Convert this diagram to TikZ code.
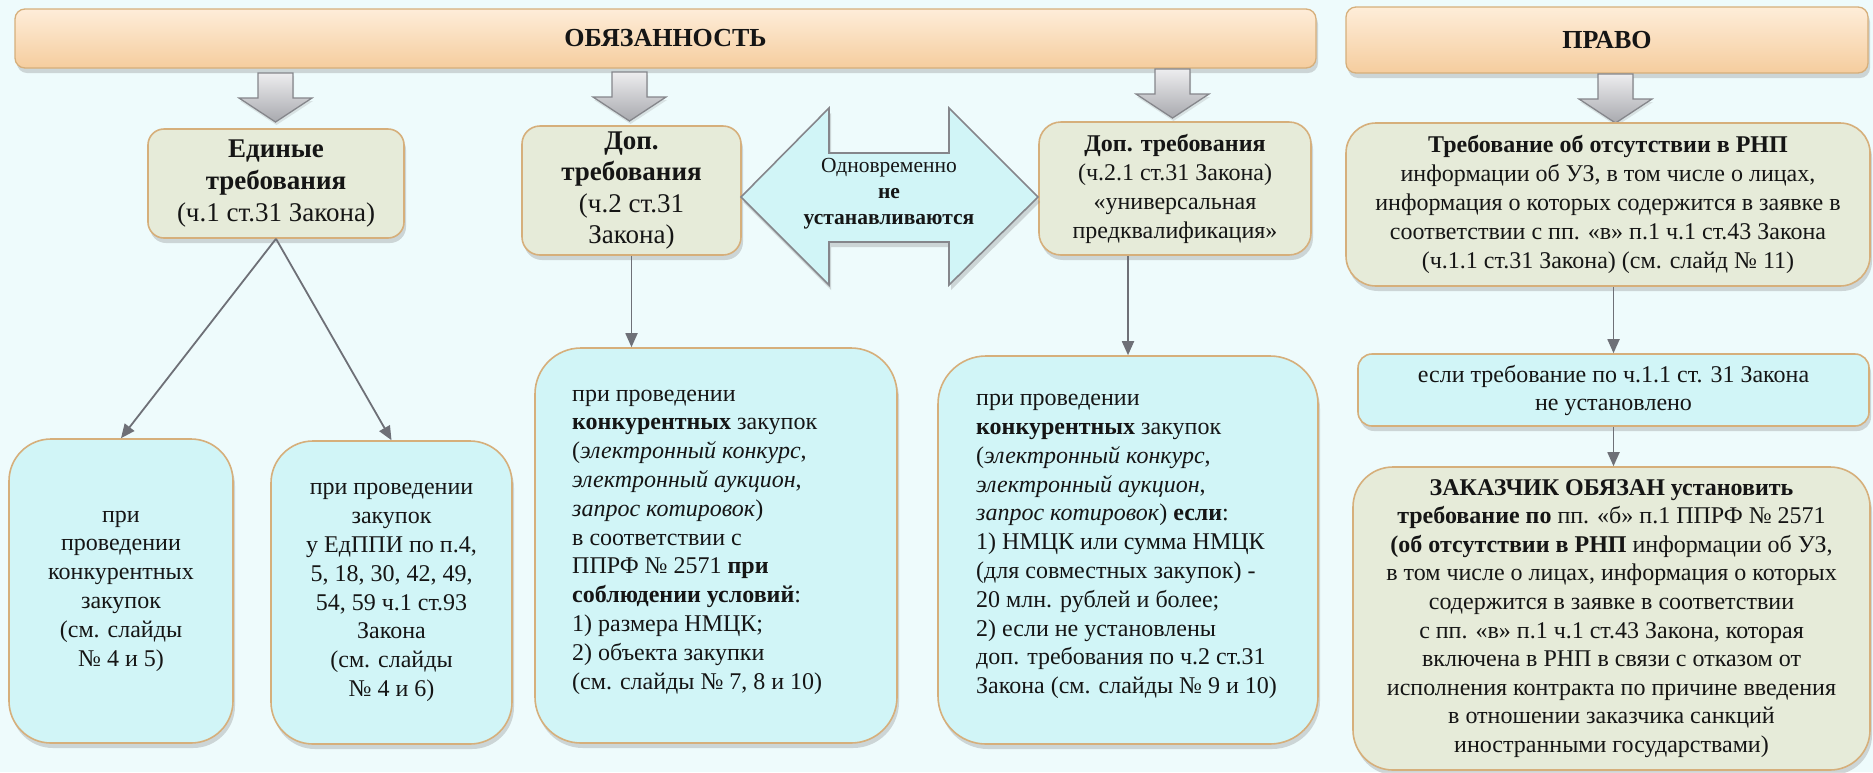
\documentclass[tikz,border=0pt]{standalone}
\usepackage{fontspec}
\setmainfont{Liberation Serif}
\usetikzlibrary{shadows,arrows.meta}
\definecolor{bg}{HTML}{EEFBFC}
\definecolor{bannerTop}{HTML}{FEEDD9}
\definecolor{bannerBot}{HTML}{F5CD9E}
\definecolor{tanb}{HTML}{D6AF7B}
\definecolor{beige}{HTML}{E6EBD9}
\definecolor{cyanbox}{HTML}{D1F5F7}
\definecolor{conngray}{HTML}{6E7077}
\definecolor{arrTop}{HTML}{EDEDEF}
\definecolor{arrBot}{HTML}{A8A9AE}
\definecolor{arrLine}{HTML}{85868B}
\definecolor{txt}{HTML}{151515}
\begin{document}
\begin{tikzpicture}[x=1pt,y=-1pt,
  shadowed/.style={drop shadow={opacity=0.3, shadow xshift=2pt, shadow yshift=-5pt}},
  banner/.style={draw=tanb, line width=1.3pt, rounded corners=10pt,
    top color=bannerTop, bottom color=bannerBot, shadowed,
    text=txt, font=\fontsize{26}{30}\selectfont\bfseries},
  beigebox/.style={draw=tanb, line width=1.6pt, fill=beige, shadowed,
    text=txt, align=center, inner sep=3pt},
  cyanbox/.style={draw=tanb, line width=1.6pt, fill=cyanbox, shadowed,
    text=txt, align=center, inner sep=3pt},
  body/.style={font=\fontsize{24}{28.8}\selectfont},
  conn/.style={draw=conngray, line width=1.8pt, -{Triangle[length=14pt,width=12pt]}},
  blockarr/.style={draw=arrLine, line width=1.3pt, top color=arrTop, bottom color=arrBot,
    drop shadow={opacity=0.2, shadow xshift=1pt, shadow yshift=-3pt}},
  downarr/.pic={\path[blockarr] (-17.5,0) -- (17.5,0) -- (17.5,25) -- (36.5,25) -- (0,49)
      -- (-36.5,25) -- (-17.5,25) -- cycle;}
]
\useasboundingbox (0,0) rectangle (1873,772);
\fill[bg] (0,0) rectangle (1873,772);

% banners
\node[banner, minimum width=1301pt, minimum height=59pt] (obyaz) at (665.5,38.5) {ОБЯЗАННОСТЬ};
\node[banner, minimum width=522pt, minimum height=66pt] (pravo) at (1607,40) {ПРАВО};

% block arrows
\pic at (275.5,73) {downarr};
\pic at (629.5,72) {downarr};
\pic at (1172.5,69) {downarr};
\pic at (1615.5,74) {downarr};

% second row
\node[beigebox, rounded corners=16pt, minimum width=256pt, minimum height=109pt,
  font=\fontsize{27}{32}\selectfont] (ed) at (276,183.5)
  {\textbf{Единые}\\\textbf{требования}\\(ч.1 ст.31 Закона)};
\node[beigebox, rounded corners=18pt, minimum width=219pt, minimum height=129pt,
  font=\fontsize{27}{31.5}\selectfont] (dop2) at (631.5,190.5)
  {\textbf{Доп.}\\\textbf{требования}\\(ч.2 ст.31\\Закона)};
\node[beigebox, rounded corners=22pt, minimum width=272pt, minimum height=133pt,
  font=\fontsize{24}{29}\selectfont] (dop21) at (1175,188.5)
  {\textbf{Доп. требования}\\(ч.2.1 ст.31 Закона)\\«универсальная\\предквалификация»};
\node[beigebox, rounded corners=30pt, minimum width=524pt, minimum height=163pt,
  font=\fontsize{24}{29}\selectfont] (treb) at (1608,204.5)
  {\textbf{Требование об отсутствии в РНП}\\информации об УЗ, в том числе о лицах,\\информация о которых содержится в заявке в\\соответствии с пп. «в» п.1 ч.1 ст.43 Закона\\(ч.1.1 ст.31 Закона) (см. слайд № 11)};

% double arrow
\path[draw=arrLine, line width=1.6pt, fill=cyanbox, shadowed]
  (741,197) -- (829,108) -- (829,153) -- (949,153) -- (949,108) -- (1038,197)
  -- (949,285) -- (949,242) -- (829,242) -- (829,285) -- cycle;
\node[text=txt, align=center, inner sep=0pt, font=\fontsize{21.5}{26}\selectfont] (dbl) at (889,194)
  {Одновременно\\\textbf{не}\\\textbf{устанавливаются}};

% right column
\node[cyanbox, rounded corners=14pt, minimum width=511pt, minimum height=72pt,
  font=\fontsize{24}{28}\selectfont] (esli) at (1613.5,390)
  {если требование по ч.1.1 ст. 31 Закона\\не установлено};
\node[beigebox, rounded corners=40pt, minimum width=517pt, minimum height=303pt,
  font=\fontsize{24}{28.6}\selectfont] (zak) at (1611.5,618.5)
  {\textbf{ЗАКАЗЧИК ОБЯЗАН установить}\\
   \textbf{требование по} пп. «б» п.1 ППРФ № 2571\\
   \textbf{(об отсутствии в РНП} информации об УЗ,\\
   в том числе о лицах, информация о которых\\
   содержится в заявке в соответствии\\
   с пп. «в» п.1 ч.1 ст.43 Закона, которая\\
   включена в РНП в связи с отказом от\\
   исполнения контракта по причине введения\\
   в отношении заказчика санкций\\
   иностранными государствами)};

% bottom boxes
\node[cyanbox, rounded corners=42pt, minimum width=224pt, minimum height=304pt, body] (boxA) at (121,591)
  {при\\проведении\\конкурентных\\закупок\\(см. слайды\\№ 4 и 5)};
\node[cyanbox, rounded corners=42pt, minimum width=241pt, minimum height=303pt, body] (boxB) at (391.5,592.5)
  {при проведении\\закупок\\у ЕдППИ по п.4,\\5, 18, 30, 42, 49,\\54, 59 ч.1 ст.93\\Закона\\(см. слайды\\№ 4 и 6)};
\node[cyanbox, rounded corners=46pt, minimum width=362pt, minimum height=395pt] (boxC) at (716,545.5) {};
\node[cyanbox, rounded corners=48pt, minimum width=380pt, minimum height=388pt] (boxD) at (1128,550) {};
\node[anchor=west, align=left, inner sep=0pt, text=txt, body] (txtC) at (572,542)
  {при проведении\\
   \textbf{конкурентных} закупок\\
   (\textit{электронный конкурс},\\
   \textit{электронный аукцион},\\
   \textit{запрос котировок})\\
   в соответствии с\\
   ППРФ № 2571 \textbf{при}\\
   \textbf{соблюдении условий}:\\
   1) размера НМЦК;\\
   2) объекта закупки\\
   (см. слайды № 7, 8 и 10)};
\node[anchor=west, align=left, inner sep=0pt, text=txt, body] (txtD) at (976,546.5)
  {при проведении\\
   \textbf{конкурентных} закупок\\
   (\textit{электронный конкурс},\\
   \textit{электронный аукцион},\\
   \textit{запрос котировок}) \textbf{если}:\\
   1) НМЦК или сумма НМЦК\\
   (для совместных закупок) -\\
   20 млн. рублей и более;\\
   2) если не установлены\\
   доп. требования по ч.2 ст.31\\
   Закона (см. слайды № 9 и 10)};

% connectors
\draw[conn] (ed.south) -- (boxA.north);
\draw[conn] (ed.south) -- (boxB.north);
\draw[conn] (dop2.south) -- (dop2.south |- boxC.north);
\draw[conn] (boxD.north |- dop21.south) -- (boxD.north);
\draw[conn] (esli.north |- treb.south) -- (esli.north);
\draw[conn] (esli.south) -- (esli.south |- zak.north);
\end{tikzpicture}
\end{document}
